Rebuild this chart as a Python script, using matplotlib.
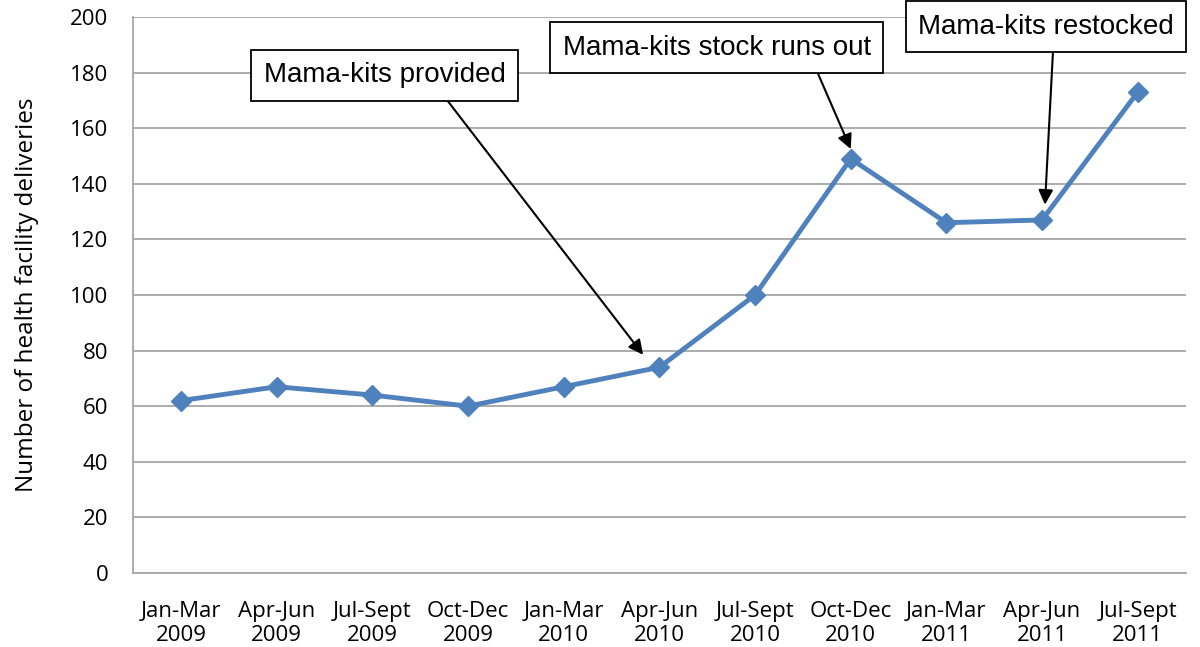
import matplotlib.pyplot as plt

quarters = ["Jan-Mar\n2009", "Apr-Jun\n2009", "Jul-Sept\n2009", "Oct-Dec\n2009",
            "Jan-Mar\n2010", "Apr-Jun\n2010", "Jul-Sept\n2010", "Oct-Dec\n2010",
            "Jan-Mar\n2011", "Apr-Jun\n2011", "Jul-Sept\n2011"]
deliveries = [62, 67, 64, 60, 67, 74, 100, 149, 126, 127, 173]
y_ticks = [0, 20, 40, 60, 80, 100, 120, 140, 160, 180, 200]

fig = plt.figure(figsize=(12, 6.47), dpi=100)
ax = fig.add_axes([0.111, 0.1144, 0.877, 0.8593])

x = list(range(len(quarters)))
ax.plot(x, deliveries, color="#4F81BD", linewidth=3.5, marker="D", markersize=10,
        markeredgecolor="#4F81BD", zorder=3)

ax.set_xlim(-0.5, len(quarters) - 0.5)
ax.set_ylim(0, 200)
ax.set_yticks(y_ticks)
ax.set_xticks(x)
ax.set_xticklabels(quarters, fontsize=16, family="Open Sans", linespacing=1.2)
ax.set_yticklabels([str(v) for v in y_ticks], fontsize=16, family="Open Sans")
ax.tick_params(axis="both", length=0)
ax.tick_params(axis="y", pad=18)
ax.tick_params(axis="x", pad=20)
ax.set_ylabel("Number of health facility deliveries", fontsize=17.5, family="Open Sans", labelpad=22)

ax.grid(axis="y", color="#A6A6A6", linewidth=1.3)
ax.set_axisbelow(True)
for s in ["top", "right"]:
    ax.spines[s].set_visible(False)
for s in ["left", "bottom"]:
    ax.spines[s].set_color("#A6A6A6")
    ax.spines[s].set_linewidth(1.3)

box = dict(boxstyle="square,pad=0.45", facecolor="white", edgecolor="black", linewidth=1.3)

# callouts: (text, text position, arrow tip, arrow start on box)
notes = [
    ("Mama-kits provided", (2.13, 179), (4.83, 78.5), (0.72, 0)),
    ("Mama-kits stock runs out", (5.6, 189), (7.0, 152.5), (0.81, 0)),
    ("Mama-kits restocked", (9.04, 196.5), (9.03, 132.5), (0.53, 0)),
]
for label, txt_pos, tip, rel in notes:
    ax.annotate(label, xy=tip, xytext=txt_pos, fontsize=20, family="Liberation Sans",
                ha="center", va="center", bbox=box, annotation_clip=False, zorder=5,
                arrowprops=dict(arrowstyle="-|>", color="black", lw=1.5,
                                mutation_scale=22, relpos=rel, shrinkA=0, shrinkB=0))

fig.savefig("out.png", dpi=100)
